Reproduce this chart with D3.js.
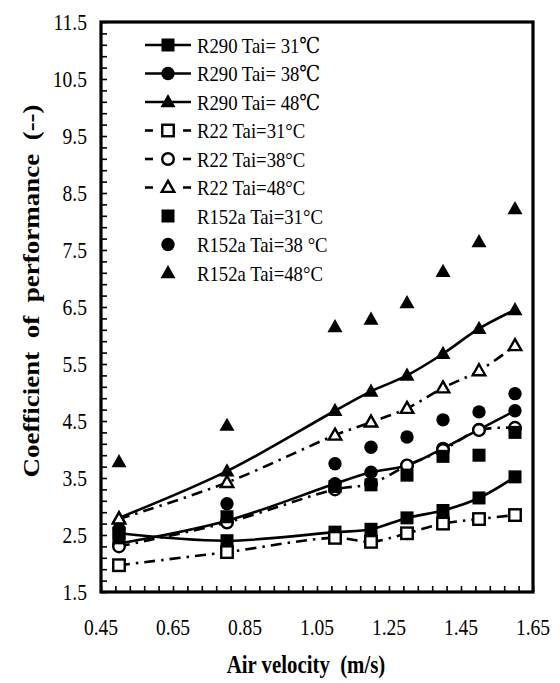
<!DOCTYPE html>
<html><head><meta charset="utf-8">
<script src="https://cdn.jsdelivr.net/npm/d3@7"></script>
<style>body{margin:0;background:#fff}svg{display:block}text{font-family:"Liberation Serif","Times New Roman","DejaVu Serif",serif;white-space:pre}</style>
</head><body><svg id="c" width="560" height="683"></svg>
<script>
const velocity = [0.5, 0.8, 1.1, 1.2, 1.3, 1.4, 1.5, 1.6];
const R290_31 = [2.53, 2.40, 2.55, 2.60, 2.80, 2.93, 3.15, 3.52];
const R290_38 = [2.35, 2.75, 3.40, 3.60, 3.72, 4.02, 4.35, 4.68];
const R290_48 = [2.80, 3.62, 4.68, 5.02, 5.30, 5.68, 6.12, 6.45];
const R22_31  = [1.97, 2.20, 2.45, 2.38, 2.53, 2.70, 2.78, 2.85];
const R22_38  = [2.30, 2.72, 3.30, 3.40, 3.72, 3.99, 4.34, 4.38];
const R22_48  = [2.78, 3.42, 4.25, 4.48, 4.72, 5.08, 5.38, 5.82];
const R152a_31 = [2.45, 2.82, 3.35, 3.38, 3.55, 3.88, 3.90, 4.30];
const R152a_38 = [2.60, 3.05, 3.75, 4.04, 4.22, 4.52, 4.66, 4.98];
const R152a_48 = [3.78, 4.42, 6.15, 6.28, 6.57, 7.12, 7.64, 8.22];
const xTicks = [0.45, 0.65, 0.85, 1.05, 1.25, 1.45, 1.65];
const yTicks = [1.5, 2.5, 3.5, 4.5, 5.5, 6.5, 7.5, 8.5, 9.5, 10.5, 11.5];

const series = [
  {name:"R290 Tai= 31\u2103", vals:R290_31, line:"solid", shape:"square", fill:true},
  {name:"R290 Tai= 38\u2103", vals:R290_38, line:"solid", shape:"circle", fill:true},
  {name:"R290 Tai= 48\u2103", vals:R290_48, line:"solid", shape:"triangle", fill:true},
  {name:"R22 Tai=31°C", vals:R22_31, line:"dashdot", shape:"square", fill:false},
  {name:"R22 Tai=38°C", vals:R22_38, line:"dashdot", shape:"circle", fill:false},
  {name:"R22 Tai=48°C", vals:R22_48, line:"dashdot", shape:"triangle", fill:false},
  {name:"R152a Tai=31°C", vals:R152a_31, line:"none", shape:"square", fill:true},
  {name:"R152a Tai=38 °C", vals:R152a_38, line:"none", shape:"circle", fill:true},
  {name:"R152a Tai=48°C", vals:R152a_48, line:"none", shape:"triangle", fill:true}
];

const L=101, R=533, T=22, B=592;
const SX = 0.85;
const svg = d3.select("#c");
const x = d3.scaleLinear().domain([0.45,1.65]).range([L,R]);
const y = d3.scaleLinear().domain([1.5,11.5]).range([B,T]);

function htext(g, px, py, str, size, anchor, bold){
  return g.append("text").attr("transform",`translate(${px},${py}) scale(${SX},1)`)
    .attr("text-anchor",anchor).attr("font-size",size).attr("font-weight",bold?"bold":null).text(str);
}

const bottomAxis = d3.axisBottom(x).tickValues(d3.range(0,31).map(i=>0.45+i*0.04)).tickSize(-6).tickFormat("");
const leftAxis = d3.axisLeft(y).tickValues(d3.range(0,51).map(i=>1.5+i*0.2)).tickSize(-6).tickFormat("");
const gb = svg.append("g").attr("transform",`translate(0,${B})`).call(bottomAxis);
const gl = svg.append("g").attr("transform",`translate(${L},0)`).call(leftAxis);
[gb,gl].forEach(g=>{g.select(".domain").remove(); g.selectAll("line").attr("stroke","#000").attr("stroke-width",1.6);});

const tg = svg.append("g");
xTicks.forEach(d=>htext(tg, x(d), 635, d.toFixed(2), 23, "middle"));
yTicks.forEach(d=>htext(tg, 87, y(d)+8, d.toFixed(1), 23, "end"));

htext(svg, 306, 673, "Air velocity  (m/s)", 24.5, "middle", true);
svg.append("text").attr("transform",`translate(39,291) rotate(-90) scale(1,${SX})`).attr("text-anchor","middle")
  .attr("font-size",27).attr("font-weight","bold")
  .text("Coefficient  of  performance  (--)");

function drawMarker(g, shape, fill, cx, cy){
  let el;
  const sw = fill?0:2.4;
  if(shape==="square"){
    const s = fill?13:11.5;
    el = g.append("rect").attr("x",cx-s/2).attr("y",cy-s/2).attr("width",s).attr("height",s);
  } else if(shape==="circle"){
    const r = fill?6.7:5.8;
    el = g.append("circle").attr("cx",cx).attr("cy",cy).attr("r",r);
  } else {
    const s = fill?15:12.5, h = s*0.88;
    el = g.append("path").attr("d",`M${cx},${cy-h*0.6}L${cx+s/2},${cy+h*0.4}L${cx-s/2},${cy+h*0.4}Z`);
  }
  el.attr("fill",fill?"#000":"#fff").attr("stroke","#000").attr("stroke-width",sw);
}

const plot = svg.append("g");
const lineGen = d3.line().x((d,i)=>x(velocity[i])).y(d=>y(d)).curve(d3.curveCatmullRom.alpha(0.5));
series.forEach(s=>{
  if(s.line!=="none"){
    plot.append("path").attr("d",lineGen(s.vals)).attr("fill","none").attr("stroke","#000")
      .attr("stroke-width",2.6).attr("stroke-dasharray",s.line==="dashdot"?"11,6,2.5,6":null);
  }
  s.vals.forEach((v,i)=>drawMarker(plot,s.shape,s.fill,x(velocity[i]),y(v)));
});

svg.append("rect").attr("x",L).attr("y",T).attr("width",R-L).attr("height",B-T)
  .attr("fill","none").attr("stroke","#000").attr("stroke-width",3.2);

const lg = svg.append("g");
series.forEach((s,i)=>{
  const cy = 45 + i*28.5;
  if(s.line==="solid"){
    lg.append("line").attr("x1",145).attr("x2",191).attr("y1",cy).attr("y2",cy).attr("stroke","#000").attr("stroke-width",2.6);
  } else if(s.line==="dashdot"){
    lg.append("line").attr("x1",145).attr("x2",153).attr("y1",cy).attr("y2",cy).attr("stroke","#000").attr("stroke-width",2.6);
    lg.append("line").attr("x1",183).attr("x2",191).attr("y1",cy).attr("y2",cy).attr("stroke","#000").attr("stroke-width",2.6);
  }
  drawMarker(lg,s.shape,s.fill,168,cy);
  htext(lg, 197, cy+7.5, s.name, 22, "start");
});
</script></body></html>
